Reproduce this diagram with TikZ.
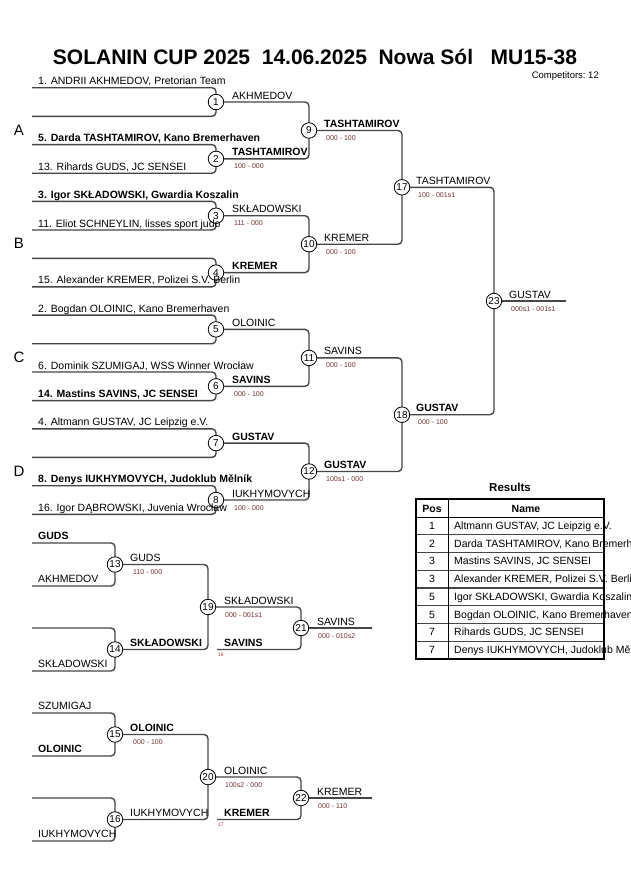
\documentclass[tikz,border=0pt]{standalone}
\usepackage{fontspec}
\setmainfont{Liberation Sans}
\usetikzlibrary{backgrounds}
\definecolor{linec}{RGB}{70,70,70}
\definecolor{scorec}{RGB}{110,50,50}
\definecolor{tinyc}{RGB}{180,60,60}
\begin{document}
\begin{tikzpicture}[x=1pt,y=-1pt,
  br/.style={draw=linec,line width=1.4pt,rounded corners=4pt},
  mc/.style={circle,draw=black,fill=white,line width=0.8pt,inner sep=0pt,minimum size=15.5pt,font=\fontsize{10}{10}\selectfont},
  lab/.style={anchor=base west,inner sep=0pt,font=\fontsize{10.5}{12}\selectfont},
  labb/.style={anchor=base west,inner sep=0pt,font=\fontsize{10.5}{12}\selectfont\bfseries},
  sc/.style={anchor=base west,inner sep=0pt,font=\fontsize{7}{8}\selectfont,text=scorec},
  tinylab/.style={anchor=base west,inner sep=0pt,font=\fontsize{5}{5}\selectfont,text=tinyc},
  grp/.style={inner sep=0pt,font=\fontsize{15}{15}\selectfont},
  cell/.style={anchor=base west,inner sep=0pt,font=\fontsize{10.5}{12}\selectfont},
  poscell/.style={anchor=base,inner sep=0pt,font=\fontsize{10.5}{12}\selectfont},
]
\clip (0,0) rectangle (630,891);

% ---------- match circles ----------
\node[mc] (m1) at (216,102) {1};
\node[mc] (m2) at (216,158.9) {2};
\node[mc] (m3) at (216,215.7) {3};
\node[mc] (m4) at (216,272.6) {4};
\node[mc] (m5) at (216,329.4) {5};
\node[mc] (m6) at (216,386.3) {6};
\node[mc] (m7) at (216,443.1) {7};
\node[mc] (m8) at (216,500) {8};
\node[mc] (m9) at (309,130.5) {9};
\node[mc] (m10) at (309,244.2) {10};
\node[mc] (m11) at (309,357.9) {11};
\node[mc] (m12) at (309,471.5) {12};
\node[mc] (m17) at (402,187.3) {17};
\node[mc] (m18) at (402,414.7) {18};
\node[mc] (m23) at (494,301) {23};
\node[mc] (m13) at (115,564.5) {13};
\node[mc] (m14) at (115,649.5) {14};
\node[mc] (m19) at (208,607) {19};
\node[mc] (m21) at (301,628) {21};
\node[mc] (m15) at (115,734.5) {15};
\node[mc] (m16) at (115,819.5) {16};
\node[mc] (m20) at (208,777) {20};
\node[mc] (m22) at (301,798) {22};

% ---------- free ends ----------
\coordinate (e1a) at (32,87.7);  \coordinate (e1b) at (32,116.3);
\coordinate (e2a) at (32,144.6); \coordinate (e2b) at (32,173.2);
\coordinate (e3a) at (32,201.4); \coordinate (e3b) at (32,230);
\coordinate (e4a) at (32,258.3); \coordinate (e4b) at (32,286.9);
\coordinate (e5a) at (32,315.1); \coordinate (e5b) at (32,343.7);
\coordinate (e6a) at (32,372);   \coordinate (e6b) at (32,400.6);
\coordinate (e7a) at (32,428.8); \coordinate (e7b) at (32,457.4);
\coordinate (e8a) at (32,485.7); \coordinate (e8b) at (32,514.3);
\coordinate (fin) at (566,301);
\coordinate (r13a) at (32,543); \coordinate (r13b) at (32,586);
\coordinate (r14a) at (32,628); \coordinate (r14b) at (32,671);
\coordinate (r15a) at (32,713); \coordinate (r15b) at (32,756);
\coordinate (r16a) at (32,798); \coordinate (r16b) at (32,841);
\coordinate (s18) at (217,649.5);
\coordinate (s17) at (217,819.5);
\coordinate (rf1) at (372,628);
\coordinate (rf2) at (372,798);

% ---------- connectors ----------
\begin{pgfonlayer}{background}
\fill[white] (0,0) rectangle (630,891);
\foreach \k in {1,...,8}{
  \draw[br] (e\k a) -| (m\k.center);
  \draw[br] (e\k b) -| (m\k.center);
}
\draw[br] (m1.center) -| (m9.center);  \draw[br] (m2.center) -| (m9.center);
\draw[br] (m3.center) -| (m10.center); \draw[br] (m4.center) -| (m10.center);
\draw[br] (m5.center) -| (m11.center); \draw[br] (m6.center) -| (m11.center);
\draw[br] (m7.center) -| (m12.center); \draw[br] (m8.center) -| (m12.center);
\draw[br] (m9.center) -| (m17.center); \draw[br] (m10.center) -| (m17.center);
\draw[br] (m11.center) -| (m18.center); \draw[br] (m12.center) -| (m18.center);
\draw[br] (m17.center) -| (m23.center); \draw[br] (m18.center) -| (m23.center);
\draw[br] (m23.center) -- (fin);
% repechage
\draw[br] (r13a) -| (m13.center); \draw[br] (r13b) -| (m13.center);
\draw[br] (r14a) -| (m14.center); \draw[br] (r14b) -| (m14.center);
\draw[br] (m13.center) -| (m19.center); \draw[br] (m14.center) -| (m19.center);
\draw[br] (m19.center) -| (m21.center); \draw[br] (s18) -| (m21.center);
\draw[br] (m21.center) -- (rf1);
\draw[br] (r15a) -| (m15.center); \draw[br] (r15b) -| (m15.center);
\draw[br] (r16a) -| (m16.center); \draw[br] (r16b) -| (m16.center);
\draw[br] (m15.center) -| (m20.center); \draw[br] (m16.center) -| (m20.center);
\draw[br] (m20.center) -| (m22.center); \draw[br] (s17) -| (m22.center);
\draw[br] (m22.center) -- (rf2);
\end{pgfonlayer}

% ---------- title ----------
\node[inner sep=0pt,font=\fontsize{21}{21}\selectfont\bfseries] (title) at (315,57) {SOLANIN CUP 2025\ \ 14.06.2025\ \ Nowa Sól\ \ \ MU15-38};
\node[anchor=east,inner sep=0pt,font=\fontsize{9.5}{10}\selectfont] (comp) at (599,76) {Competitors:\ 12};

% ---------- pool letters ----------
\node[grp] (gA) at (19,130) {A};
\node[grp] (gB) at (19,243) {B};
\node[grp] (gC) at (19,357) {C};
\node[grp] (gD) at (19,471) {D};

% ---------- entry labels ----------
\node[lab]  (n1)  at (38,84.7)  {1. ANDRII AKHMEDOV, Pretorian Team};
\node[labb] (n5)  at (38,141.6) {5. Darda TASHTAMIROV, Kano Bremerhaven};
\node[lab]  (n13) at (38,170.2) {13. Rihards GUDS, JC SENSEI};
\node[labb] (n3)  at (38,198.4) {3. Igor SKŁADOWSKI, Gwardia Koszalin};
\node[lab]  (n11) at (38,227)   {11. Eliot SCHNEYLIN, lisses sport judo};
\node[lab]  (n15) at (38,283.9) {15. Alexander KREMER, Polizei S.V. Berlin};
\node[lab]  (n2)  at (38,312.1) {2. Bogdan OLOINIC, Kano Bremerhaven};
\node[lab]  (n6)  at (38,369)   {6. Dominik SZUMIGAJ, WSS Winner Wrocław};
\node[labb] (n14) at (38,397.6) {14. Mastins SAVINS, JC SENSEI};
\node[lab]  (n4)  at (38,425.8) {4. Altmann GUSTAV, JC Leipzig e.V.};
\node[labb] (n8)  at (38,482.7) {8. Denys IUKHYMOVYCH, Judoklub Mělník};
\node[lab]  (n16) at (38,511.3) {16. Igor DĄBROWSKI, Juvenia Wrocław};

% ---------- winners round 1 ----------
\node[lab]  (w1) at (232,99)    {AKHMEDOV};
\node[labb] (w2) at (232,155.9) {TASHTAMIROV};
\node[sc]   (s2) at (234,168.9) {100 - 000};
\node[lab]  (w3) at (232,212.7) {SKŁADOWSKI};
\node[sc]   (s3) at (234,225.7) {111 - 000};
\node[labb] (w4) at (232,269.6) {KREMER};
\node[lab]  (w5) at (232,326.4) {OLOINIC};
\node[labb] (w6) at (232,383.3) {SAVINS};
\node[sc]   (s6) at (234,396.3) {000 - 100};
\node[labb] (w7) at (232,440.1) {GUSTAV};
\node[lab]  (w8) at (232,497)   {IUKHYMOVYCH};
\node[sc]   (s8) at (234,510)   {100 - 000};
% round 2
\node[labb] (w9)  at (324,127.5) {TASHTAMIROV};
\node[sc]   (s9)  at (326,140.5) {000 - 100};
\node[lab]  (w10) at (324,241.2) {KREMER};
\node[sc]   (s10) at (326,254.2) {000 - 100};
\node[lab]  (w11) at (324,354.9) {SAVINS};
\node[sc]   (s11) at (326,367.9) {000 - 100};
\node[labb] (w12) at (324,468.5) {GUSTAV};
\node[sc]   (s12) at (326,481.5) {100s1 - 000};
% round 3
\node[lab]  (w17) at (416,184.3) {TASHTAMIROV};
\node[sc]   (s17s) at (418,197.3) {100 - 001s1};
\node[labb] (w18) at (416,411.7) {GUSTAV};
\node[sc]   (s18s) at (418,424.7) {000 - 100};
% final
\node[lab]  (w23) at (509,298) {GUSTAV};
\node[sc]   (s23) at (511,311) {000s1 - 001s1};

% ---------- repechage ----------
\node[labb] (q1) at (38,539.5) {GUDS};
\node[lab]  (q2) at (38,582.5) {AKHMEDOV};
\node[lab]  (q3) at (38,667.5) {SKŁADOWSKI};
\node[lab]  (w13) at (130,561.5) {GUDS};
\node[sc]   (s13) at (133,574.5) {110 - 000};
\node[labb] (w14) at (130,646.5) {SKŁADOWSKI};
\node[lab]  (w19) at (224,604) {SKŁADOWSKI};
\node[sc]   (s19) at (225,617) {000 - 001s1};
\node[labb] (q4) at (224,646.5) {SAVINS};
\node[tinylab] (t18) at (218,656) {18};
\node[lab]  (w21) at (317,625) {SAVINS};
\node[sc]   (s21) at (318,638) {000 - 010s2};

\node[lab]  (q5) at (38,709.5) {SZUMIGAJ};
\node[labb] (q6) at (38,752.5) {OLOINIC};
\node[lab]  (q7) at (38,837.5) {IUKHYMOVYCH};
\node[labb] (w15) at (130,731.5) {OLOINIC};
\node[sc]   (s15) at (133,744.5) {000 - 100};
\node[lab]  (w16) at (130,816.5) {IUKHYMOVYCH};
\node[lab]  (w20) at (224,774) {OLOINIC};
\node[sc]   (s20) at (225,787) {100s2 - 000};
\node[labb] (q8) at (224,816.5) {KREMER};
\node[tinylab] (t17) at (218,826) {17};
\node[lab]  (w22) at (317,795) {KREMER};
\node[sc]   (s22) at (318,808) {000 - 110};

% ---------- results table ----------
\node[inner sep=0pt,font=\fontsize{11.5}{12}\selectfont\bfseries] (res) at (510,487) {Results};
\foreach \i in {1,...,7}{
  \draw[draw=linec,line width=1.2pt] (416,{517+17.75*\i}) -- (604,{517+17.75*\i});
}
\draw[line width=1pt] (416,517) -- (604,517);
\draw[line width=1pt] (448,499) -- (448,659);
\draw[line width=2pt] (416,499) rectangle (604,659);
\node[poscell,font=\fontsize{10.5}{12}\selectfont\bfseries] (hp) at (432,512) {Pos};
\node[poscell,font=\fontsize{10.5}{12}\selectfont\bfseries] (hn) at (526,512) {Name};
\node[poscell] (p1) at (432,529.4) {1}; \node[cell] (c1) at (454,529.4) {Altmann GUSTAV, JC Leipzig e.V.};
\node[poscell] (p2) at (432,547.1) {2}; \node[cell] (c2) at (454,547.1) {Darda TASHTAMIROV, Kano Bremerhaven};
\node[poscell] (p3) at (432,564.9) {3}; \node[cell] (c3) at (454,564.9) {Mastins SAVINS, JC SENSEI};
\node[poscell] (p4) at (432,582.6) {3}; \node[cell] (c4) at (454,582.6) {Alexander KREMER, Polizei S.V. Berlin};
\node[poscell] (p5) at (432,600.4) {5}; \node[cell] (c5) at (454,600.4) {Igor SKŁADOWSKI, Gwardia Koszalin};
\node[poscell] (p6) at (432,618.1) {5}; \node[cell] (c6) at (454,618.1) {Bogdan OLOINIC, Kano Bremerhaven};
\node[poscell] (p7) at (432,635.9) {7}; \node[cell] (c7) at (454,635.9) {Rihards GUDS, JC SENSEI};
\node[poscell] (p8) at (432,653.6) {7}; \node[cell] (c8) at (454,653.6) {Denys IUKHYMOVYCH, Judoklub Mělník};
\end{tikzpicture}
\end{document}
